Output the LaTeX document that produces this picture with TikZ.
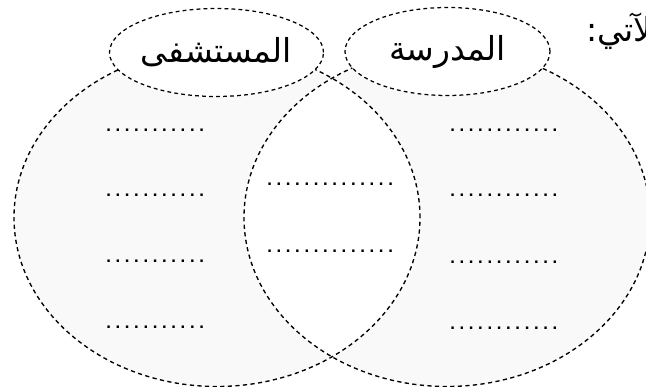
\documentclass[tikz,border=0pt]{standalone}
\usepackage{fontspec}
\usetikzlibrary{shapes.geometric}
\TeXXeTstate=1
\newfontfamily\arabicfont[Script=Arabic]{DejaVu Sans}
\newfontfamily\dotfont{DejaVu Sans Bold}
\newcommand\dotrow[1]{\hbox to #1{\leaders\hbox to 9.3pt{\hss.\hss}\hfill}}
\tikzset{
  venn/.style={line width=1.35pt, dash pattern=on 4.2pt off 3.4pt},
  lab/.style={ellipse, draw, line width=1.25pt, dash pattern=on 3.8pt off 3.2pt, fill=white, inner sep=0pt, minimum height=88pt, font=\arabicfont\fontsize{33}{40}\selectfont},
  blank/.style={inner sep=0pt, font=\dotfont\fontsize{13.5}{13.5}\selectfont},
}
\begin{document}
\begin{tikzpicture}[x=1pt,y=-1pt]
\useasboundingbox (0,0) rectangle (646,387);
\clip (0,0) rectangle (646,387);
\fill[white] (0,0) rectangle (646,387);
% big circles
\fill[black!2.5] (217,217.5) ellipse [x radius=203pt, y radius=169pt];
\fill[black!2.5] (447,217.5) ellipse [x radius=203pt, y radius=169pt];
\begin{scope}
  \clip (217,217.5) ellipse [x radius=203pt, y radius=169pt];
  \fill[white] (447,217.5) ellipse [x radius=203pt, y radius=169pt];
\end{scope}
\draw[venn] (217,217.5) ellipse [x radius=203pt, y radius=169pt];
\draw[venn] (447,217.5) ellipse [x radius=203pt, y radius=169pt];
% labels
\node[lab, minimum width=207pt] (hosp) at (216.5,52.5) {\beginR المستشفى\endR};
\node[lab, minimum width=205pt] (school) at (447.5,51.5) {\beginR المدرسة\endR};
\node[anchor=west, inner sep=0pt, font=\arabicfont\fontsize{33}{40}\selectfont] (title) at (586,31) {\beginR الآتي:\endR};
% blanks left
\node[blank] (l1) at (159,130) {\dotrow{110pt}};
\node[blank] (l2) at (159,195) {\dotrow{110pt}};
\node[blank] (l3) at (159,261) {\dotrow{110pt}};
\node[blank] (l4) at (159,327) {\dotrow{110pt}};
% blanks right
\node[blank] (r1) at (504,130) {\dotrow{112pt}};
\node[blank] (r2) at (504,195) {\dotrow{112pt}};
\node[blank] (r3) at (504,262) {\dotrow{112pt}};
\node[blank] (r4) at (504,328) {\dotrow{112pt}};
% blanks middle
\node[blank] (m1) at (331,184) {\dotrow{132pt}};
\node[blank] (m2) at (331,251) {\dotrow{132pt}};
\end{tikzpicture}
\end{document}
